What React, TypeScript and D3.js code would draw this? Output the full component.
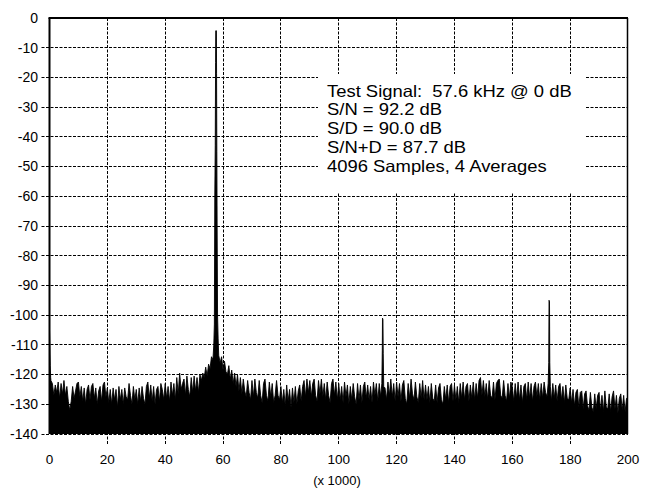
import * as React from 'react';
import * as d3 from 'd3';

// Noise floor, one value every 0.5 kHz from 0 to 200 kHz (dB)
const noiseDb = [
  // 0-10
  -121, -122, -123, -127, -123.5, -126, -122.5, -128, -123, -126.5, -122, -127, -124, -129, -132, -129, -124, -128, -125.5, -123,
  // 10-20
  -122.5, -127.5, -124, -129, -124.5, -130, -125, -123.5, -128.5, -124, -123, -128, -124.5, -130, -125.5, -124, -129, -123.5, -122.5, -127.5,
  // 20-30
  -124.5, -129.5, -125, -130, -124.5, -128.5, -125, -131, -124, -128.5, -125, -130, -124.5, -127.5, -128.5, -123, -127, -130, -124, -128.5,
  // 30-40
  -125, -130, -124.5, -129, -124, -128, -130, -124, -122.5, -128, -123.5, -129, -124, -130, -125, -124, -129, -123, -125, -128.5,
  // 40-50
  -123, -128, -124, -129, -122.5, -127, -123, -128.5, -121, -126.5, -119.5, -125, -123, -121.5, -127, -120.5, -125, -127.5, -121, -126,
  // 50-60
  -120.5, -125.5, -121, -126, -120, -122, -119.5, -121, -117.5, -120.5, -116.5, -118, -114, -115, -111.5, -108, -110, -113.5, -116, -114,
  // 60-70
  -118.5, -115.5, -119, -120, -117, -121.5, -118.5, -123, -119.5, -124, -120, -125.5, -121, -126.5, -121.5, -125.5, -127.5, -122, -126, -128.5,
  // 70-80
  -122, -127.5, -121.5, -126, -128, -122, -127, -129.5, -123, -121.5, -127, -129, -122.5, -127.5, -123, -129.5, -127, -122, -127, -128.5,
  // 80-90
  -124, -129.5, -125, -130.5, -123.5, -129, -125, -131, -124.5, -129.5, -124, -130, -125.5, -123.5, -129, -124, -122, -127.5, -121.5, -126,
  // 90-100
  -122, -127.5, -123, -121.5, -127, -129, -122, -126.5, -121.5, -127.5, -123, -128.5, -122.5, -127, -129.5, -123, -121.5, -127, -122.5, -128.5,
  // 100-110
  -123, -128.5, -124, -129.5, -122.5, -127.5, -123.5, -130, -124, -128.5, -123, -127.5, -130, -123, -128.5, -123.5, -129.5, -124, -122.5, -128,
  // 110-120
  -123.5, -128.5, -124, -129.5, -122.5, -127, -123, -129, -123, -127.5, -123, -129.5, -124.5, -128.5, -122.5, -127, -121.5, -127.5, -123, -129,
  // 120-130
  -122.5, -127.5, -123, -129, -123.5, -122, -128, -130, -123, -128, -121.5, -126.5, -128.5, -122.5, -127.5, -129.5, -123, -128, -122, -128.5,
  // 130-140
  -123.5, -128.5, -124, -129.5, -123, -128, -129, -123.5, -129.5, -124.5, -123, -128.5, -130, -124, -128.5, -123.5, -129.5, -124, -123, -129,
  // 140-150
  -123.5, -128.5, -124, -129.5, -123, -128, -122.5, -128.5, -124, -123, -129, -123.5, -128, -122.5, -128.5, -123, -128, -122, -121, -127,
  // 150-160
  -122, -127.5, -123, -128.5, -122, -127, -128, -122.5, -128.5, -123, -122, -121.5, -127, -128, -122, -127, -129, -123, -128, -122.5,
  // 160-170
  -124, -129, -123, -128, -122.5, -128.5, -123.5, -129.5, -124, -123, -128.5, -122.5, -128, -123, -129, -124, -122.5, -127.5, -123, -128.5,
  // 170-180
  -123, -128, -122.5, -126, -127.5, -122, -127, -129, -123, -128, -123.5, -129, -124, -123, -128.5, -124, -129.5, -123.5, -128, -128.5,
  // 180-190
  -124.5, -129.5, -125, -130.5, -126, -125, -131, -126, -125.5, -131.5, -126.5, -125.5, -130.5, -132, -126, -131, -132.5, -126.5, -131.5, -127,
  // 190-200
  -126, -132, -127, -132.5, -125.5, -131, -131.5, -126.5, -132.5, -127.5, -125.5, -131.5, -127, -133, -128, -126.5, -132, -127, -132.5, -128,
  -128,
];

// DC leakage
const dcFreq = [0, 0.12, 0.25, 0.4];
const dcDb = [-105, -110, -117, -121];

// 57.6 kHz test tone
const mainFreq = [56.8, 57.0, 57.15, 57.3, 57.42, 57.48, 57.7, 57.76, 57.85, 57.95, 58.1, 58.3];
const mainDb = [-110, -103, -60, -43, -15, -4.3, -4.3, -18.6, -45, -70, -100, -108];

// 2nd harmonic (115.2 kHz)
const h2Freq = [114.9, 115.05, 115.12, 115.28, 115.38, 115.55];
const h2Db = [-123, -112, -101, -101.5, -113, -124];

// 3rd harmonic (172.8 kHz)
const h3Freq = [172.4, 172.6, 172.7, 172.86, 172.96, 173.15];
const h3Db = [-123, -116, -95, -95.5, -116, -124];

const xTicks = [0, 20, 40, 60, 80, 100, 120, 140, 160, 180, 200];
const yTicks = [0, -10, -20, -30, -40, -50, -60, -70, -80, -90, -100, -110, -120, -130, -140];

const annotationLines = [
  'Test Signal:  57.6 kHz @ 0 dB',
  'S/N = 92.2 dB',
  'S/D = 90.0 dB',
  'S/N+D = 87.7 dB',
  '4096 Samples, 4 Averages',
];
const xAxisTitle = '(x 1000)';

const W = 652;
const H = 497;
const plot = {left: 49.5, right: 628, top: 18, bottom: 434};
const font = 'Arial, "Liberation Sans", Helvetica, sans-serif';

type P = {f: number, db: number};

// snap a coordinate to the middle of a pixel so 1px lines stay crisp
const crisp = (v: number) => Math.round(v - 0.5) + 0.5;

export default function App() {
  const x = d3.scaleLinear().domain([0, 200]).range([plot.left, plot.right]);
  const y = d3.scaleLinear().domain([-140, 0]).range([plot.bottom, plot.top]);

  const tones = [
    {f: dcFreq, db: dcDb},
    {f: mainFreq, db: mainDb},
    {f: h2Freq, db: h2Db},
    {f: h3Freq, db: h3Db},
  ];

  const binWidth = 200 / (noiseDb.length - 1);
  const points: P[] = noiseDb
    .map((db, i) => ({f: i * binWidth, db}))
    .filter(p => !tones.some(t => p.f >= t.f[0] && p.f <= t.f[t.f.length - 1]))
    .concat(tones.flatMap(t => t.f.map((f, i) => ({f, db: t.db[i]}))))
    .sort((a, b) => a.f - b.f);

  const area = d3.area<P>()
    .x(d => x(d.f))
    .y0(y(-140))
    .y1(d => y(d.db));

  const line = d3.line<P>()
    .x(d => x(d.f))
    .y(d => y(d.db));

  const grid = {stroke: '#000', strokeWidth: 1, strokeDasharray: '3,1.5', fill: 'none'};

  return (
    <svg width={W} height={H} style={{position: 'absolute', left: 0, top: 0, background: '#fff'}}
         fontFamily={font}>
      <defs>
        <clipPath id="plot-clip">
          <rect x={plot.left} y={plot.top} width={plot.right - plot.left} height={plot.bottom - plot.top}/>
        </clipPath>
      </defs>

      {/* horizontal grid + left ticks */}
      {yTicks.filter(t => t !== 0).map(t => (
        <line key={'h' + t} x1={plot.left - 8} x2={plot.right} y1={crisp(y(t))} y2={crisp(y(t))} {...grid}/>
      ))}
      {/* vertical grid + bottom ticks */}
      {xTicks.filter(t => t !== 0 && t !== 200).map(t => (
        <line key={'v' + t} x1={crisp(x(t))} x2={crisp(x(t))} y1={plot.top} y2={plot.bottom + 11} {...grid}/>
      ))}

      {/* spectrum */}
      <g clipPath="url(#plot-clip)">
        <path d={area(points) ?? ''} fill="#000"/>
        <path d={line(points) ?? ''} fill="none" stroke="#000" strokeWidth={0.9}/>
      </g>

      {/* frame */}
      <line x1={plot.left - 1} x2={plot.right} y1={plot.top} y2={plot.top} stroke="#000" strokeWidth={2}/>
      <line x1={plot.left} x2={plot.left} y1={plot.top} y2={plot.bottom} stroke="#000" strokeWidth={2}/>
      <line x1={plot.right - 0.5} x2={plot.right - 0.5} y1={plot.top} y2={plot.bottom} stroke="#000" strokeWidth={1.5}/>

      {/* y labels */}
      {yTicks.map(t => (
        <text key={'yl' + t} x={38} y={y(t)} dy="0.35em" textAnchor="end" fontSize={14} fill="#000">{t}</text>
      ))}
      {/* x labels */}
      {xTicks.map(t => (
        <text key={'xl' + t} x={x(t)} y={463.5} textAnchor="middle" fontSize={13.5} fill="#000">{t}</text>
      ))}
      <text x={337} y={485} textAnchor="middle" fontSize={13} fill="#000">{xAxisTitle}</text>

      {/* annotation box; the lettering in the original is a little wide for its height */}
      <rect x={318} y={74} width={268} height={119} fill="#fff"/>
      <g transform="translate(327,0) scale(1.13,1)">
        {annotationLines.map((s, i) => (
          <text key={s} x={0} y={96.7 + i * 18.75} fontSize={16.3} fill="#000"
                style={{whiteSpace: 'pre'}}>{s}</text>
        ))}
      </g>
    </svg>
  );
}
